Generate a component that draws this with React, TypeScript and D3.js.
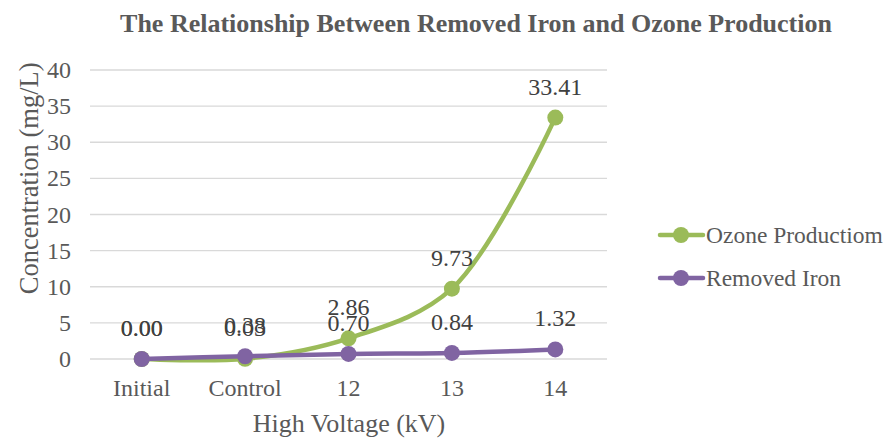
import React, { useEffect, useRef } from 'react';
import * as d3 from 'd3';

const categories = ['Initial', 'Control', '12', '13', '14'];
const ozone = [0.0, 0.03, 2.86, 9.73, 33.41];
const iron = [0.0, 0.38, 0.7, 0.84, 1.32];
const yTicks = [0, 5, 10, 15, 20, 25, 30, 35, 40];

const series = [
  { name: 'Ozone Productiom', values: ozone, color: '#9BBB59' },
  { name: 'Removed Iron', values: iron, color: '#8064A2' },
];

const W = 889;
const H = 439;
const font = '"Liberation Serif", "Times New Roman", serif';

const App: React.FC = () => {
  const svgRef = useRef<SVGSVGElement>(null);

  useEffect(() => {
    if (!svgRef.current) return;
    const svg = d3.select(svgRef.current);
    svg.selectAll('*').remove();

    const x = d3.scaleBand<string>().domain(categories).range([90, 607]);
    const y = d3.scaleLinear().domain([0, 40]).range([359, 70]);
    const cx = (c: string) => (x(c) as number) + x.bandwidth() / 2;

    svg.append('rect').attr('width', W).attr('height', H).attr('fill', '#fff');

    // title
    svg.append('text')
      .attr('x', 476).attr('y', 32)
      .attr('text-anchor', 'middle')
      .attr('font-family', font).attr('font-size', 26).attr('font-weight', 'bold')
      .attr('fill', '#595959')
      .text('The Relationship Between Removed Iron and Ozone Production');

    // grid
    svg.append('g').selectAll('line').data(yTicks).join('line')
      .attr('x1', 90).attr('x2', 607)
      .attr('y1', d => y(d)).attr('y2', d => y(d))
      .attr('stroke', '#d9d9d9').attr('stroke-width', 1.3);

    svg.append('g').selectAll('text').data(yTicks).join('text')
      .attr('x', 71).attr('y', d => y(d) + 8)
      .attr('text-anchor', 'end')
      .attr('font-family', font).attr('font-size', 24).attr('fill', '#595959')
      .text(d => d);

    svg.append('g').selectAll('text').data(categories).join('text')
      .attr('x', d => cx(d)).attr('y', 396)
      .attr('text-anchor', 'middle')
      .attr('font-family', font).attr('font-size', 24).attr('fill', '#595959')
      .text(d => d);

    svg.append('text')
      .attr('x', 349).attr('y', 432)
      .attr('text-anchor', 'middle')
      .attr('font-family', font).attr('font-size', 26).attr('fill', '#595959')
      .text('High Voltage (kV)');

    svg.append('text')
      .attr('transform', `translate(38,${y(25)}) rotate(-90)`)
      .attr('text-anchor', 'middle')
      .attr('font-family', font).attr('font-size', 26.5).attr('fill', '#595959')
      .text('Concentration (mg/L)');

    const line = d3.line<number>()
      .x((_, i) => cx(categories[i]))
      .y(d => y(d))
      .curve(d3.curveCatmullRom.alpha(0.5));

    series.forEach(s => {
      const g = svg.append('g');
      g.append('path')
        .attr('d', line(s.values))
        .attr('fill', 'none').attr('stroke', s.color)
        .attr('stroke-width', 4.5).attr('stroke-linecap', 'round');
      g.selectAll('circle').data(s.values).join('circle')
        .attr('cx', (_, i) => cx(categories[i]))
        .attr('cy', d => y(d))
        .attr('r', 8).attr('fill', s.color);
    });

    // data labels
    series.forEach(s => {
      svg.append('g').selectAll('text').data(s.values).join('text')
        .attr('x', (_, i) => cx(categories[i]))
        .attr('y', d => y(d) - 23)
        .attr('text-anchor', 'middle')
        .attr('font-family', font).attr('font-size', 24).attr('fill', '#404040')
        .text(d => d.toFixed(2));
    });

    // legend
    const lg = svg.append('g');
    series.forEach((s, i) => {
      const ly = 235 + i * 43;
      lg.append('line')
        .attr('x1', 660).attr('x2', 703).attr('y1', ly).attr('y2', ly)
        .attr('stroke', s.color).attr('stroke-width', 4.5).attr('stroke-linecap', 'round');
      lg.append('circle').attr('cx', 681).attr('cy', ly).attr('r', 8).attr('fill', s.color);
      lg.append('text')
        .attr('x', 706).attr('y', ly + 8)
        .attr('font-family', font).attr('font-size', 23.5).attr('fill', '#595959')
        .text(s.name);
    });
  }, []);

  return (
    <svg
      ref={svgRef}
      width={W}
      height={H}
      style={{ display: 'block', position: 'absolute', top: 0, left: 0 }}
    />
  );
};

export default App;
